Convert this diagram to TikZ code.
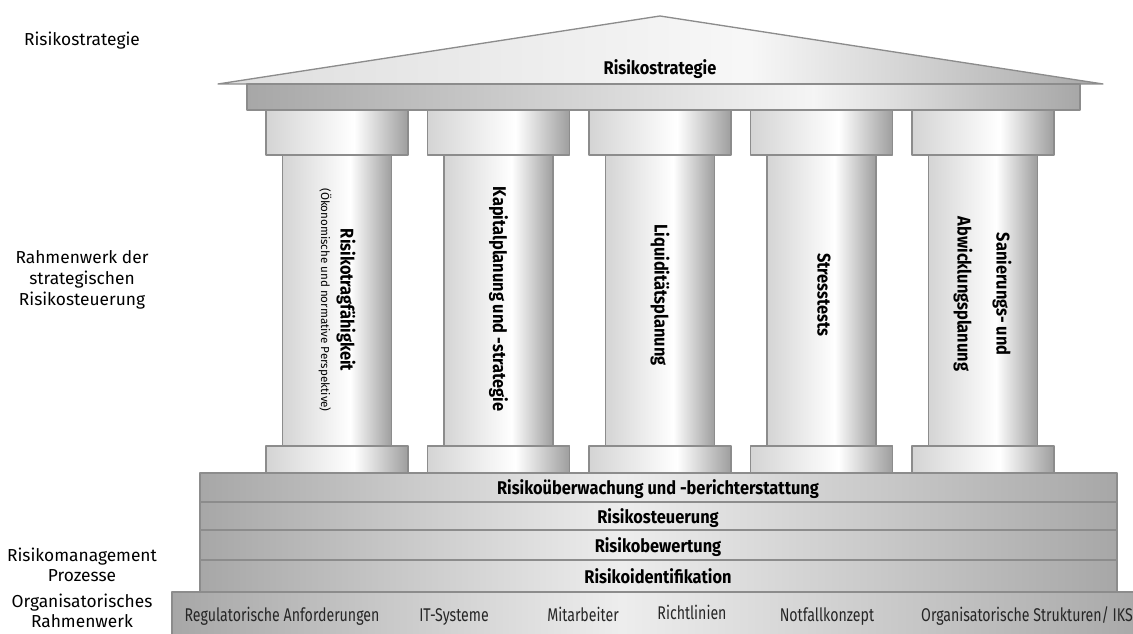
\documentclass[tikz,border=0pt]{standalone}
\usepackage{fontspec}
\setmainfont{Fira Sans}
\newfontfamily\pillarfont[FakeStretch=0.89]{Fira Sans}
\newfontfamily\floorfont[FakeStretch=0.77]{Fira Sans}

%Colors
\definecolor{edge}{HTML}{8C8C8C}
\definecolor{darkgrey}{HTML}{A7A7A7}
\definecolor{midgrey}{HTML}{D4D4D4}
\definecolor{shadegrey}{HTML}{9E9E9E}
\definecolor{lightgrey}{HTML}{DEDEDE}

%Shadings (the path fills 25bp to 75bp)
\pgfdeclarehorizontalshading{columnshade}{100bp}{color(0bp)=(midgrey); color(25bp)=(midgrey); color(56bp)=(white); color(75bp)=(shadegrey); color(100bp)=(shadegrey)}
\pgfdeclarehorizontalshading{roofshade}{100bp}{color(0bp)=(lightgrey); color(25bp)=(lightgrey); color(55bp)=(white!97!black); color(75bp)=(darkgrey); color(100bp)=(darkgrey)}
\pgfdeclarehorizontalshading{beamshade}{100bp}{color(0bp)=(darkgrey); color(25bp)=(darkgrey); color(59bp)=(white!96!black); color(75bp)=(darkgrey); color(100bp)=(darkgrey)}
\pgfdeclarehorizontalshading{floorshade}{100bp}{color(0bp)=(darkgrey); color(25bp)=(darkgrey); color(48bp)=(white!93!black); color(75bp)=(darkgrey); color(100bp)=(darkgrey)}

\begin{document}
\begin{tikzpicture}
			[x=0.75pt,y=-0.75pt,line join=round,
			%Styles
			part/.style={draw=edge,line width=1pt},
			column/.style={part,shading=columnshade},
			layer/.style={part,shading=floorshade},
			side text/.style={align=center,font=\fontsize{13}{15.5}\selectfont,inner sep=0pt},
			pillar text/.style={font=\pillarfont\bfseries\fontsize{13.8}{16}\selectfont,inner sep=0pt},
			floor text/.style={font=\floorfont\fontsize{13.8}{16}\selectfont,text=black!85,inner sep=0pt,anchor=base}
			]
			\useasboundingbox (0,0) rectangle (1133,634);
			
			%The temple
			\draw[part,shading=roofshade] (218,84) -- (660,16) -- (1103,84) -- cycle;
			\draw[part,shading=beamshade] (247,84) rectangle (1080,110);
			
			\foreach \c in {337,498.5,660,821.5,983} {
				\draw[column] (\c-54.5,155) rectangle (\c+54.5,446);
				\draw[column] (\c-71,110) rectangle (\c+71,155);
				\draw[column] (\c-71,446) rectangle (\c+71,473);
			}
			
			\draw[layer] (200,473) rectangle (1117,502);
			\draw[layer] (200,502) rectangle (1117,530);
			\draw[layer] (200,530) rectangle (1117,560);
			\draw[layer] (200,560) rectangle (1117,592);
			\begin{scope}
				\clip (0,0) rectangle (1133,634);
				\draw[part,shading=floorshade] (172,592) rectangle (1150,650);
			\end{scope}
			
			%Texts
			\node[pillar text,anchor=base] (roof) at (660,75) {Risikostrategie};
			
			\node[pillar text,rotate=-90] (rtf) at (346,300) {Risikotragfähigkeit};
			\node[font=\fontsize{8.7}{10}\selectfont,rotate=-90,inner sep=0pt] (rtfsub) at (325,300) {(Ökonomische und normative Perspektive)};
			\node[pillar text,rotate=-90] (kap) at (498.5,299) {Kapitalplanung und -strategie};
			\node[pillar text,rotate=-90] (liq) at (660,295) {Liquiditätsplanung};
			\node[pillar text,rotate=-90] (stress) at (824,295) {Stresstests};
			\node[pillar text,rotate=-90] (san) at (1002,294) {Sanierungs- und};
			\node[pillar text,rotate=-90] (abw) at (963,294) {Abwicklungsplanung};
			
			\node[pillar text,anchor=base] (ueberw) at (658,495) {Risikoüberwachung und -berichterstattung};
			\node[pillar text,anchor=base] (steuer) at (658,524) {Risikosteuerung};
			\node[pillar text,anchor=base] (bewert) at (658,553) {Risikobewertung};
			\node[pillar text,anchor=base] (ident) at (658,584) {Risikoidentifikation};
			
			\node[floor text] (regul) at (282,622) {Regulatorische Anforderungen};
			\node[floor text] (itsys) at (454,622) {IT-Systeme};
			\node[floor text] (mitarb) at (583,622) {Mitarbeiter};
			\node[floor text] (richtl) at (692,620) {Richtlinien};
			\node[floor text] (notfall) at (827,622) {Notfallkonzept};
			\node[floor text] (orga) at (1027,622) {Organisatorische Strukturen/ IKS};
			
			\node[side text] (l1) at (82,41) {Risikostrategie};
			\node[side text] (l2) at (82,280) {Rahmenwerk der\\strategischen\\Risikosteuerung};
			\node[side text] (l3) at (82,565) {Risikomanagement\\Prozesse};
			\node[side text,font=\fontsize{13}{14.8}\selectfont] (l4) at (82,611) {Organisatorisches\\Rahmenwerk};
		\end{tikzpicture}
\end{document}
